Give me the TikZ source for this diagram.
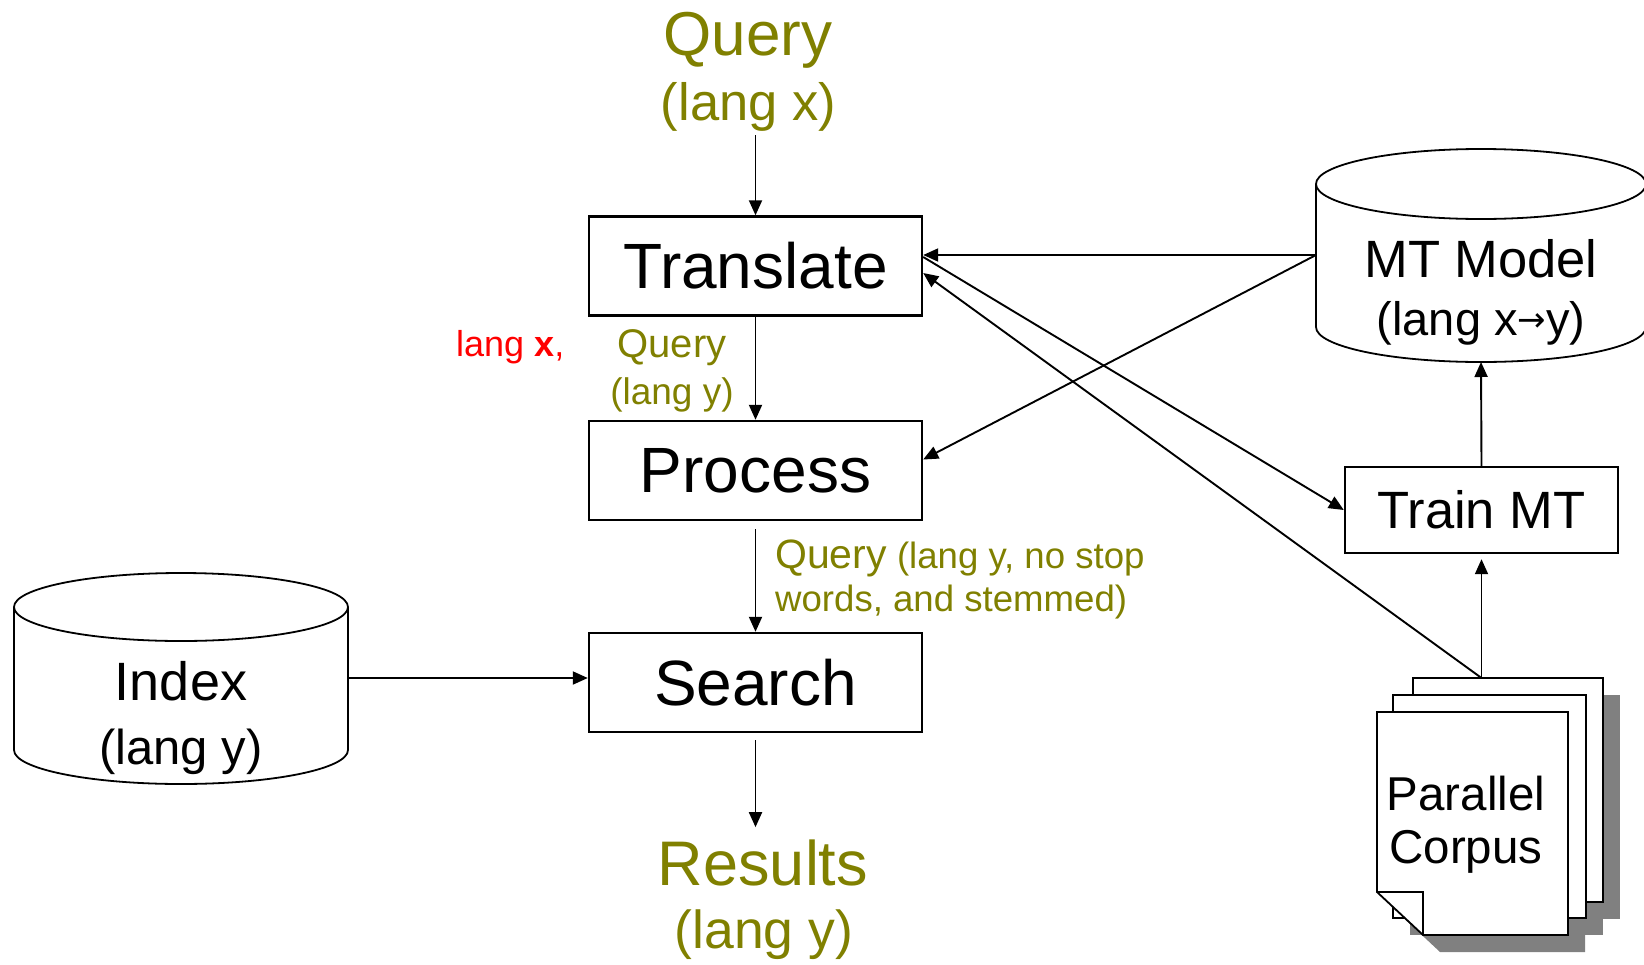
\documentclass[tikz,border=0pt]{standalone}
\usepackage{fontspec}
\setmainfont{Liberation Sans}
\newfontfamily\arrowfont{DejaVu Sans}
\usetikzlibrary{arrows.meta,calc}
\definecolor{olivetxt}{RGB}{128,128,0}
\definecolor{shadowgray}{RGB}{128,128,128}
\newcommand{\setfs}[1]{\fontsize{#1pt}{#1pt}\selectfont}
% vertical drum: centre x, top-ellipse y, bottom-ellipse y, x radius, y radius
\newcommand{\drum}[5]{%
  \draw[drumline] (#1-#4,#2) -- (#1-#4,#3)
    arc[start angle=180,end angle=360,x radius=#4pt,y radius=#5pt] -- (#1+#4,#2);
  \draw[drumline] (#1,#2) ellipse[x radius=#4pt,y radius=#5pt];
}
\begin{document}
\begin{tikzpicture}[x=1pt,y=-1pt,
  procbox/.style={draw, line width=2.4pt, minimum width=333pt, minimum height=99pt,
    inner sep=0pt, font=\setfs{64}},
  smallbox/.style={draw, line width=2.4pt, minimum width=273pt, minimum height=86pt,
    inner sep=0pt, font=\setfs{52.5}},
  drumline/.style={line width=1.8pt},
  page/.style={draw, line width=1.8pt, fill=white},
  pageshadow/.style={fill=shadowgray},
  ghost/.style={inner sep=0pt, outer sep=0pt},
  txt/.style={inner sep=0pt, anchor=base},
  oltxt/.style={txt, text=olivetxt},
  arr/.style={-{Triangle[length=15pt,width=13pt]}, line width=1.9pt},
]
\useasboundingbox (0,0) rectangle (1644,964);

% ---- processing chain ----
\node[procbox] (translate) at (755.5,266) {Translate};
\node[procbox] (process)   at (755.5,470.5) {Process};
\node[procbox] (search)    at (755.5,682.5) {Search};

\node[oltxt, font=\setfs{62}] (qtitle) at (748,55) {Query};
\node[oltxt, font=\setfs{52.5}] (qlangx) at (748.5,120) {(lang x)};

\node[oltxt, font=\setfs{63}] (results) at (763,885) {Results};
\node[oltxt, font=\setfs{53.5}] (rlangy) at (764,948) {(lang y)};

\node[txt, anchor=base west, text=red, font=\setfs{36}] (langx) at (456,356) {lang \textbf{x},};
\node[oltxt, font=\setfs{40}] (tq1) at (672,357) {Query};
\node[oltxt, font=\setfs{37}] (tq2) at (672,404) {(lang y)};

\node[oltxt, anchor=base west, font=\setfs{36.6}] (pq1) at (775,568) {{\setfs{41}Query} (lang y, no stop};
\node[oltxt, anchor=base west, font=\setfs{36.6}] (pq2) at (775,611) {words, and stemmed)};

% ---- index drum ----
\drum{181}{607}{750}{167}{34}
\node[ghost, minimum width=334pt, minimum height=212pt] (index) at (181,678) {};
\node[txt, font=\setfs{54}] (indext1) at (181,700) {Index};
\node[txt, font=\setfs{49}] (indext2) at (181,764) {(lang y)};

% ---- MT model drum ----
\drum{1481}{184}{327}{165}{35}
\node[ghost, minimum width=330pt, minimum height=214pt] (model) at (1481,255) {};
\node[txt, font=\setfs{52.5}] (modelt1) at (1481,277) {MT Model};
\node[txt, font=\setfs{47}] (modelt2) at (1481,335)
  {(lang x{\arrowfont\setfs{34}\raisebox{4pt}{→}}y)};

% ---- training ----
\node[smallbox] (train) at (1481.5,510) {Train MT};

% ---- parallel corpus: stacked pages with drop shadow ----
\begin{scope}[shift={(17,17)}]
  \fill[pageshadow] (1413,678) rectangle (1603,902);
  \fill[pageshadow] (1393,695) rectangle (1586,918);
  \fill[pageshadow] (1377,712) -- (1568,712) -- (1568,935) -- (1423,935) -- (1377,892) -- cycle;
\end{scope}
\draw[page] (1413,678) rectangle (1603,902);
\draw[page] (1393,695) rectangle (1586,918);
\draw[page] (1377,712) -- (1568,712) -- (1568,935) -- (1423,935) -- (1377,892) -- cycle;
\draw[line width=1.8pt] (1377,892) -- (1423,892) -- (1423,935);
\node[ghost, minimum width=226pt, minimum height=257pt] (corpus) at (1490,806.5) {};
\node[txt, font=\setfs{47.5}] (corpust1) at (1466,810) {Parallel};
\node[txt, font=\setfs{47.5}] (corpust2) at (1466,863) {Corpus};

% ---- connectors ----
\draw[arr, shorten <=4pt] (qlangx.south -| translate.north) -- (translate.north);
\draw[arr] (translate.south) -- (process.north);
\draw[arr, shorten <=8pt] (process.south) -- (search.north);
\draw[arr, shorten <=7pt, shorten >=12pt] (search.south) -- (search.south |- results.north);
\draw[arr] (index.east) -- (index.east -| search.west);
\draw[arr] (model.west) -- (model.west -| translate.east);
\draw[arr] (model.west) -- ($(process.east)+(0,-11)$);
\draw[arr] ($(translate.east)+(0,-9)$) -- (train.west);
\draw[arr] (corpus.north -| train.south) -- ($(translate.east)+(0,7)$);
\draw[arr, shorten >=5pt] (corpus.north -| train.south) -- (train.south);
\draw[arr] (train.north) -- (model.south);
\end{tikzpicture}
\end{document}
